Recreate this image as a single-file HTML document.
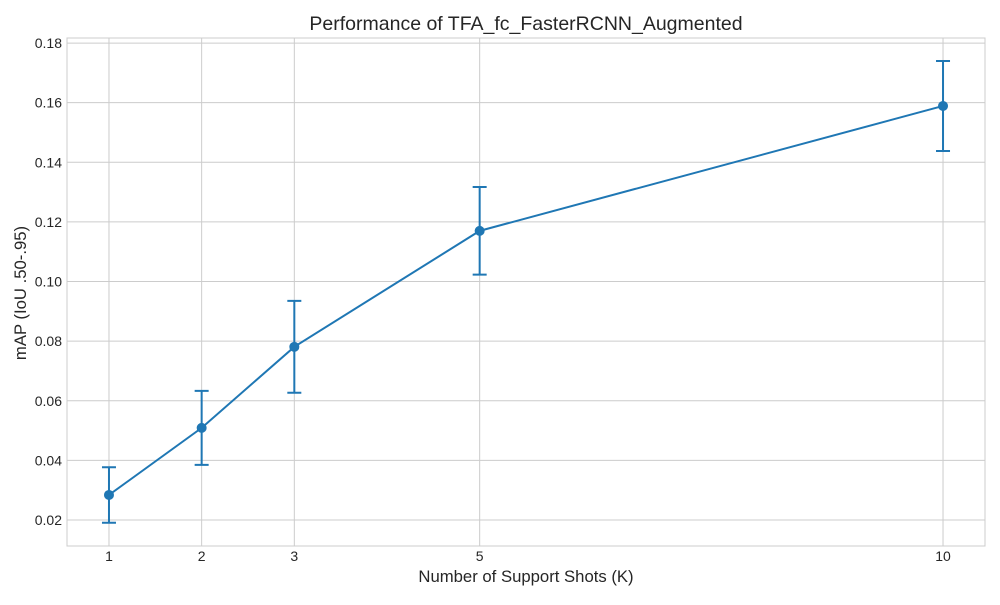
<!DOCTYPE html>
<html><head><meta charset="utf-8"><style>
body{margin:0;background:#fff;font-family:"Liberation Sans",sans-serif}
</style></head><body>
<svg id="chart" width="1000" height="600" xmlns="http://www.w3.org/2000/svg">
<rect x="67" y="38" width="918" height="508" fill="#fff" stroke="#cccccc" stroke-width="1"/>
<g id="grid"></g><g id="series"></g><g id="ticks"></g>
<text x="526" y="30" text-anchor="middle" font-size="19.5" fill="#262626">Performance of TFA_fc_FasterRCNN_Augmented</text>
<text x="526" y="582" text-anchor="middle" font-size="16.7" fill="#262626">Number of Support Shots (K)</text>
<text x="26" y="293" text-anchor="middle" font-size="16.7" fill="#262626" transform="rotate(-90 26 293)">mAP (IoU .50-.95)</text>
</svg>
<script>
const shots=[1,2,3,5,10];
const mapValues=[0.0284,0.0509,0.0781,0.117,0.1589];
const errValues=[0.0093,0.0124,0.0154,0.0147,0.0151];
const yTicks=[0.02,0.04,0.06,0.08,0.10,0.12,0.14,0.16,0.18];
const yTickLabels=["0.02","0.04","0.06","0.08","0.10","0.12","0.14","0.16","0.18"];
const xTickLabels=["1","2","3","5","10"];
const NS="http://www.w3.org/2000/svg";
const X0=67,X1=985,Y0=546,Y1=38,xmin=0.547,xmax=10.453,ymin=0.01128,ymax=0.1817;
const sx=v=>X0+(v-xmin)/(xmax-xmin)*(X1-X0);
const sy=v=>Y0-(v-ymin)/(ymax-ymin)*(Y0-Y1);
function mk(tag,attrs,parent){const e=document.createElementNS(NS,tag);for(const k in attrs)e.setAttribute(k,attrs[k]);document.getElementById(parent).appendChild(e);return e;}
yTicks.forEach((t,i)=>{
 const g=mk('line',{x1:X0,x2:X1,y1:sy(t),y2:sy(t),stroke:'#cccccc','stroke-width':1},'grid');
 
 
 const l=mk('text',{x:62,y:sy(t)+5,'text-anchor':'end','font-size':14,fill:'#262626'},'ticks');
 l.textContent=yTickLabels[i];
 
 
});
shots.forEach((s,i)=>{
 const g=mk('line',{x1:sx(s),x2:sx(s),y1:Y1,y2:Y0,stroke:'#cccccc','stroke-width':1},'grid');
 
 
 const l=mk('text',{x:sx(s),y:561,'text-anchor':'middle','font-size':14,fill:'#262626'},'ticks');
 l.textContent=xTickLabels[i];
 
 
});
const c='#1f77b4';
const line=mk('polyline',{points:shots.map((s,i)=>sx(s)+','+sy(mapValues[i])).join(' '),fill:'none',stroke:c,'stroke-width':2},'series');


shots.forEach((s,i)=>{
 const x=sx(s),yt=sy(mapValues[i]+errValues[i]),yb=sy(mapValues[i]-errValues[i]);
 const e=mk('path',{d:`M${x},${yt}V${yb}M${x-7},${yt}H${x+7}M${x-7},${yb}H${x+7}`,stroke:c,'stroke-width':2,fill:'none'},'series');
 
 
 const p=mk('circle',{cx:x,cy:sy(mapValues[i]),r:5,fill:c},'series');
 
 
});
</script>
</body></html>
